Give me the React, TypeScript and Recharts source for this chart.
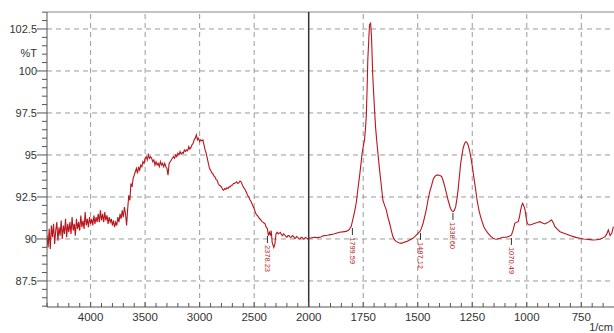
import { ComposedChart, Line, Scatter, XAxis, YAxis, ReferenceLine, Label } from 'recharts';

// wavenumber (1/cm) and %T
const wavenumbers = [
  4400, 4390, 4380, 4370, 4360, 4350, 4340, 4330, 4320, 4310, 4300, 4290, 4280, 4270, 4260, 4250, 4240, 4230, 4220, 4210,
  4200, 4190, 4180, 4170, 4160, 4150, 4140, 4130, 4120, 4110, 4100, 4090, 4080, 4070, 4060, 4050, 4040, 4030, 4020, 4010,
  4000, 3990, 3980, 3970, 3960, 3950, 3940, 3930, 3920, 3910, 3900, 3890, 3880, 3870, 3860, 3850, 3840, 3830, 3820, 3810,
  3800, 3790, 3780, 3770, 3760, 3750, 3740, 3730, 3720, 3710, 3700, 3690, 3680, 3670, 3660, 3650, 3640, 3630, 3620, 3610,
  3600, 3590, 3580, 3570, 3560, 3550, 3540, 3530, 3520, 3510, 3500, 3490, 3480, 3470, 3460, 3450, 3440, 3430, 3420, 3410,
  3400, 3390, 3380, 3370, 3360, 3350, 3340, 3330, 3320, 3310, 3300, 3290, 3280, 3270, 3260, 3250, 3240, 3230, 3220, 3210,
  3200, 3190, 3180, 3170, 3160, 3150, 3140, 3130, 3120, 3110, 3100, 3090, 3080, 3070, 3060, 3050, 3040, 3030, 3020, 3010,
  3000, 2990, 2980, 2970, 2960, 2950, 2940, 2930, 2920, 2910, 2900, 2890, 2880, 2870, 2860, 2850, 2840, 2830, 2820, 2810,
  2800, 2790, 2780, 2770, 2760, 2750, 2740, 2730, 2720, 2710, 2700, 2690, 2680, 2670, 2660, 2650, 2640, 2630, 2620, 2610,
  2600, 2590, 2580, 2570, 2560, 2550, 2540, 2530, 2520, 2510, 2500, 2490, 2480, 2470, 2460, 2450, 2440, 2430, 2420, 2410,
  2400, 2390, 2378, 2370, 2360, 2350, 2344, 2335, 2320, 2310, 2300, 2290, 2280, 2270, 2260, 2250, 2240, 2230, 2220, 2210,
  2200, 2190, 2180, 2170, 2160, 2150, 2140, 2130, 2120, 2110, 2100, 2090, 2080, 2070, 2060, 2050, 2040, 2030, 2020, 2010,
  2000, 1990, 1975, 1960, 1945, 1930, 1915, 1900, 1885, 1870, 1859, 1845, 1828, 1815, 1805, 1798, 1790, 1782, 1775, 1767,
  1760, 1755, 1750, 1744, 1740, 1736, 1732, 1729, 1724, 1721, 1716, 1712, 1706, 1698, 1693, 1687, 1681, 1675, 1668, 1660,
  1652, 1644, 1637, 1629, 1621, 1614, 1606, 1598, 1587, 1575, 1563, 1552, 1537, 1522, 1510, 1499, 1490, 1483, 1475, 1468,
  1460, 1453, 1445, 1436, 1429, 1422, 1414, 1406, 1398, 1390, 1383, 1376, 1368, 1361, 1355, 1350, 1344, 1338, 1332, 1326,
  1320, 1315, 1309, 1303, 1297, 1292, 1286, 1280, 1275, 1269, 1263, 1257, 1250, 1243, 1235, 1228, 1220, 1212, 1204, 1197,
  1187, 1177, 1165, 1154, 1146, 1139, 1123, 1108, 1093, 1078, 1070, 1062, 1055, 1047, 1039, 1033, 1028, 1023, 1019, 1013,
  1008, 1003, 998, 992, 986, 975, 963, 951, 940, 928, 917, 907, 897, 891, 886, 878, 871, 860, 848, 832,
  817, 802, 787, 771, 756, 740, 725, 710, 695, 680, 664, 652, 641, 633, 626, 618, 610, 603,
];

const transmittance = [
  90.2, 89.5, 90.6, 89.4, 90.8, 90.1, 90.9, 89.7, 90.5, 91.0, 89.9, 90.7, 90.2, 91.1, 90.0, 90.8, 90.3, 91.2, 90.1, 90.9,
  90.4, 91.0, 90.3, 91.3, 90.5, 90.9, 90.2, 91.2, 90.6, 91.0, 90.5, 91.4, 90.7, 91.1, 90.6, 91.6, 90.8, 91.2, 90.7, 91.3,
  90.9, 91.2, 90.8, 91.4, 90.9, 91.3, 91.0, 91.5, 91.0, 91.7, 91.1, 91.5, 91.0, 91.6, 91.1, 91.4, 90.9, 91.3, 91.0, 91.2,
  90.8, 91.1, 90.7, 91.0, 90.8, 91.3, 91.0, 91.5, 91.2, 91.7, 91.3, 91.9, 91.5, 90.8, 91.8, 92.6, 92.3, 93.3, 93.1, 93.6,
  93.8, 94.0, 94.2, 93.9, 94.3, 94.1, 94.4, 94.3, 94.6, 94.5, 94.8, 94.9, 94.7, 95.0, 94.8, 94.9, 94.8, 94.6, 94.7, 94.4,
  94.6, 94.4, 94.5, 94.3, 94.6, 94.4, 94.5, 94.3, 94.5, 94.3, 94.2, 93.8, 94.5, 94.6, 94.7, 94.8, 94.9, 94.8, 95.0, 94.9,
  95.1, 95.0, 95.2, 95.05, 95.15, 95.1, 95.3, 95.2, 95.3, 95.25, 95.5, 95.35, 95.45, 95.6, 95.7, 95.9, 96.0, 96.2, 95.9, 96.0,
  95.8, 95.9, 95.85, 95.9, 95.6, 95.3, 95.1, 94.8, 94.5, 94.2, 94.1, 93.95, 93.9, 93.75, 93.7, 93.55, 93.5, 93.3, 93.2, 93.15,
  93.1, 92.95, 92.9, 93.0, 92.95, 93.05, 93.0, 93.1, 93.1, 93.2, 93.2, 93.3, 93.3, 93.35, 93.4, 93.3, 93.35, 93.45, 93.4, 93.25,
  93.1, 93.0, 92.9, 92.75, 92.6, 92.5, 92.35, 92.25, 92.1, 91.95, 91.8, 91.6, 91.45, 91.4, 91.3, 91.2, 91.15, 91.05, 91.0, 90.95,
  90.9, 90.7, 90.6, 90.2, 90.4, 90.2, 90.5, 89.8, 89.5, 89.7, 90.3, 90.4, 90.3, 90.35, 90.4, 90.25, 90.2, 90.3, 90.25, 90.15,
  90.1, 90.2, 90.2, 90.1, 90.1, 90.2, 90.15, 90.05, 90.05, 90.15, 90.1, 90.0, 90.0, 90.1, 90.1, 90.0, 90.0, 90.1, 90.05, 90.0,
  90.05, 90.06, 90.1, 90.08, 90.12, 90.2, 90.22, 90.26, 90.3, 90.36, 90.4, 90.42, 90.45, 90.55, 90.75, 91.13, 91.6, 92.14, 92.9, 93.71,
  94.5, 95.1, 95.5, 95.9, 96.5, 97.28, 99.0, 100.65, 102.0, 102.74, 102.84, 102.04, 99.66, 97.68, 96.6, 95.71, 94.9, 94.11, 93.3, 92.32,
  92.0, 91.73, 91.3, 90.95, 90.5, 90.14, 89.95, 89.84, 89.78, 89.74, 89.8, 89.84, 89.94, 90.04, 90.18, 90.33, 90.45, 90.63, 90.95, 91.33,
  91.8, 92.32, 92.8, 93.21, 93.55, 93.71, 93.8, 93.81, 93.78, 93.71, 93.45, 93.11, 92.7, 92.32, 92.05, 91.83, 91.68, 91.63, 91.7, 91.92,
  92.4, 92.92, 93.7, 94.51, 95.0, 95.4, 95.65, 95.79, 95.75, 95.6, 95.3, 94.9, 94.35, 93.71, 93.0, 92.32, 91.75, 91.33, 91.0, 90.73,
  90.5, 90.33, 90.15, 90.04, 90.0, 89.98, 90.04, 90.1, 90.1, 90.18, 90.24, 90.55, 90.93, 91.0, 91.03, 91.35, 91.73, 92.0, 92.12, 91.95,
  91.73, 91.3, 90.93, 90.85, 90.83, 90.88, 90.93, 90.98, 91.03, 90.95, 90.89, 90.96, 91.03, 91.1, 91.13, 90.95, 90.73, 90.58, 90.43, 90.35,
  90.28, 90.2, 90.14, 90.08, 90.04, 90.0, 89.98, 89.96, 89.94, 89.95, 89.98, 90.05, 90.14, 90.3, 90.54, 90.2, 90.34, 90.73,
];

// labelled peaks
const peakWavenumbers = [2378.23, 1799.59, 1487.12, 1338.6, 1070.49];
const peakLabels = ['2378.23', '1799.59', '1487.12', '1338.60', '1070.49'];
const peakLabelLevels = [90.18, 90.65, 90.36, 91.55, 90.06];

const xMajorTicks = [4000, 3500, 3000, 2500, 2000, 1750, 1500, 1250, 1000, 750];
const xMinorTicks = [
  4400, 4300, 4200, 4100, 3900, 3800, 3700, 3600, 3400, 3300, 3200, 3100, 2900, 2800, 2700, 2600, 2400, 2300, 2200, 2100,
  1950, 1900, 1850, 1800, 1700, 1650, 1600, 1550, 1450, 1400, 1350, 1300, 1200, 1150, 1100, 1050, 950, 900, 850, 800, 700, 650,
];
const yMajorTicks = [87.5, 90, 92.5, 95, 97.5, 100, 102.5];
const yMinorTicks = [
  86, 86.5, 87, 88, 88.5, 89, 89.5, 90.5, 91, 91.5, 92, 93, 93.5, 94, 94.5, 95.5, 96, 96.5, 97, 98, 98.5, 99, 99.5,
  100.5, 101, 101.5, 102, 103, 103.5,
];

// the axis is compressed 2x above 2000 1/cm, like the instrument printout
const toPos = (wn: number) => (wn >= 2000 ? 4400 - wn : 2400 + 2 * (2000 - wn));
const toWn = (p: number) => Math.round(p <= 2400 ? 4400 - p : 2000 - (p - 2400) / 2);

const data = wavenumbers.map((wn, i) => ({ p: toPos(wn), v: transmittance[i] }));
const peaks = peakWavenumbers.map((wn, i) => ({ p: toPos(wn), v: peakLabelLevels[i], label: peakLabels[i] }));

const FONT = '"Liberation Sans", Arial, sans-serif';
const CURVE = '#b8161c';

function XTick({ x, y, payload }: any) {
  const wn = toWn(payload.value);
  const major = xMajorTicks.includes(wn);
  return (
    <g>
      <line x1={x} x2={x} y1={y} y2={y - (major ? 5 : 4)} stroke="#555" />
      {major && (
        <text x={x} y={y + 14} textAnchor="middle" fontSize={11.5} fill="#333" fontFamily={FONT}>
          {wn}
        </text>
      )}
    </g>
  );
}

function YTick({ x, y, payload }: any) {
  const major = yMajorTicks.some((t) => Math.abs(t - payload.value) < 0.01);
  return (
    <g>
      <line x1={x - (major ? 10 : 5)} x2={x} y1={y} y2={y} stroke="#555" />
      {major && (
        <text x={x - 10} y={y + 4} textAnchor="end" fontSize={11} fill="#333" fontFamily={FONT}>
          {payload.value}
        </text>
      )}
    </g>
  );
}

function PeakMark({ cx, cy, payload }: any) {
  return (
    <g>
      <line x1={cx} x2={cx} y1={cy} y2={cy + 7} stroke="#333" />
      <text
        x={cx}
        y={cy + 9}
        transform={`rotate(90 ${cx} ${cy + 9})`}
        fontSize={7.5}
        fill="#b5262b"
        fontFamily={FONT}
        dominantBaseline="central"
      >
        {payload.label}
      </text>
    </g>
  );
}

export default function App() {
  return (
    <div style={{ position: 'absolute', left: 0, top: 0, background: '#fff' }}>
      <ComposedChart width={614} height={333} data={data} margin={{ top: 12, right: 0, bottom: 0, left: 0 }}>
        <XAxis
          dataKey="p"
          type="number"
          domain={[0, 5200]}
          allowDataOverflow
          ticks={[...xMajorTicks, ...xMinorTicks].map(toPos)}
          interval={0}
          tick={<XTick />}
          tickLine={false}
          tickSize={0}
          tickMargin={0}
          height={26}
          stroke="#555"
          label={
            <Label
              content={({ viewBox }: any) => (
                <text x={viewBox.x + viewBox.width - 1} y={viewBox.y + 24} textAnchor="end" fontSize={11} fill="#333" fontFamily={FONT}>
                  1/cm
                </text>
              )}
            />
          }
        />
        <YAxis
          type="number"
          domain={[85.95, 103.51]}
          allowDataOverflow
          ticks={[...yMajorTicks, ...yMinorTicks]}
          interval={0}
          tick={<YTick />}
          tickLine={false}
          tickSize={0}
          tickMargin={0}
          width={47}
          stroke="#555"
          label={
            <Label
              content={({ viewBox }: any) => (
                <text x={viewBox.x + viewBox.width - 10} y={viewBox.y + 45} textAnchor="end" fontSize={11} fill="#333" fontFamily={FONT}>
                  %T
                </text>
              )}
            />
          }
        />
        {yMajorTicks.map((t) => (
          <ReferenceLine key={`h${t}`} y={t} stroke="#9a9a9a" strokeDasharray="5 4" />
        ))}
        {xMajorTicks
          .filter((t) => t !== 2000)
          .map((t) => (
            <ReferenceLine key={`v${t}`} x={toPos(t)} stroke="#9a9a9a" strokeDasharray="5 4" />
          ))}
        <ReferenceLine y={103.51} stroke="#888" />
        <ReferenceLine x={toPos(2000)} stroke="#333" strokeWidth={1.5} />
        <Line type="linear" dataKey="v" stroke={CURVE} strokeWidth={1.1} dot={false} isAnimationActive={false} />
        <Scatter data={peaks} dataKey="v" shape={<PeakMark />} isAnimationActive={false} />
      </ComposedChart>
    </div>
  );
}
